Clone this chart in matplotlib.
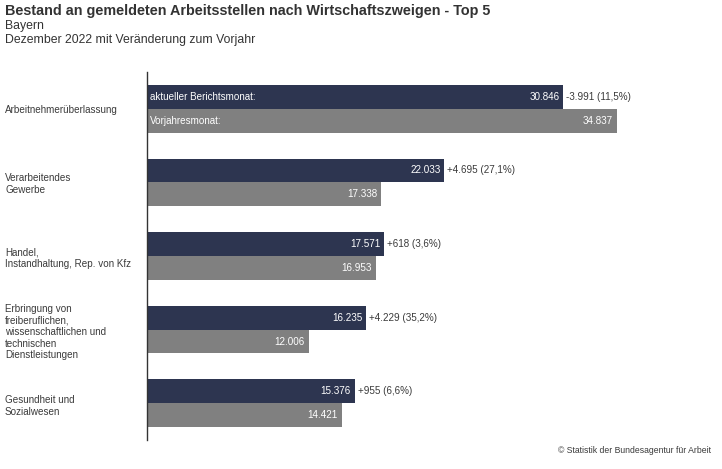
import matplotlib.pyplot as plt
import numpy as np

plt.rcParams['font.family'] = ['Liberation Sans', 'DejaVu Sans']

categories = ['Arbeitnehmerüberlassung',
              'Verarbeitendes\nGewerbe',
              'Handel,\nInstandhaltung, Rep. von Kfz',
              'Erbringung von\nfreiberuflichen,\nwissenschaftlichen und\ntechnischen\nDienstleistungen',
              'Gesundheit und\nSozialwesen']
current = [30846, 22033, 17571, 16235, 15376]
previous = [34837, 17338, 16953, 12006, 14421]
change_labels = ['-3.991 (11,5%)', '+4.695 (27,1%)', '+618 (3,6%)',
                 '+4.229 (35,2%)', '+955 (6,6%)']

def fmt(v):
    return f'{v:,}'.replace(',', '.')

fig = plt.figure(figsize=(7.22, 4.69), dpi=100)
ax = fig.add_axes([147 / 722, 1 - 440 / 469, 1 - 147 / 722, 368 / 469])

dark = '#2d3550'
grey = '#808080'
txt = '#3a3a3a'
h = 24 / 74
y = np.arange(len(categories))

ax.barh(y - h / 2, current, height=h, color=dark)
ax.barh(y + h / 2, previous, height=h, color=grey)

ax.set_xlim(0, 42600)
ax.set_ylim(len(categories) - 0.5, -0.5)
ax.set_xticks([])
ax.set_yticks([])
for s in ['top', 'right', 'bottom']:
    ax.spines[s].set_visible(False)
ax.spines['left'].set_color('#333333')
ax.spines['left'].set_linewidth(1.0)

off = 300
fs = 7.1
for i in range(len(categories)):
    ax.text(current[i] - off, y[i] - h / 2, fmt(current[i]), color='white',
            fontsize=fs, ha='right', va='center')
    ax.text(previous[i] - off, y[i] + h / 2, fmt(previous[i]), color='white',
            fontsize=fs, ha='right', va='center')
    ax.text(current[i] + 220, y[i] - h / 2, change_labels[i], color=txt,
            fontsize=fs, ha='left', va='center')
    yc = 110 + 74 * i
    fig.text(5 / 722, 1 - yc / 469, categories[i],
             fontsize=fs, color=txt, ha='left', va='center', linespacing=1.2)

ax.text(200, y[0] - h / 2, 'aktueller Berichtsmonat:', color='white',
        fontsize=fs, ha='left', va='center')
ax.text(200, y[0] + h / 2, 'Vorjahresmonat:', color='white',
        fontsize=fs, ha='left', va='center')

fig.text(5 / 722, 1 - 11 / 469, 'Bestand an gemeldeten Arbeitsstellen nach Wirtschaftszweigen - Top 5',
         fontsize=10.4, fontweight='bold', color='#333333', ha='left', va='center')
fig.text(5 / 722, 1 - 26 / 469, 'Bayern', fontsize=8.8, color='#333333',
         ha='left', va='center')
fig.text(5 / 722, 1 - 40 / 469, 'Dezember 2022 mit Veränderung zum Vorjahr',
         fontsize=8.8, color='#333333', ha='left', va='center')
fig.text(711 / 722, 1 - 450 / 469, '© Statistik der Bundesagentur für Arbeit',
         fontsize=6.2, color=txt, ha='right', va='center')

fig.savefig('out.png', dpi=100)
